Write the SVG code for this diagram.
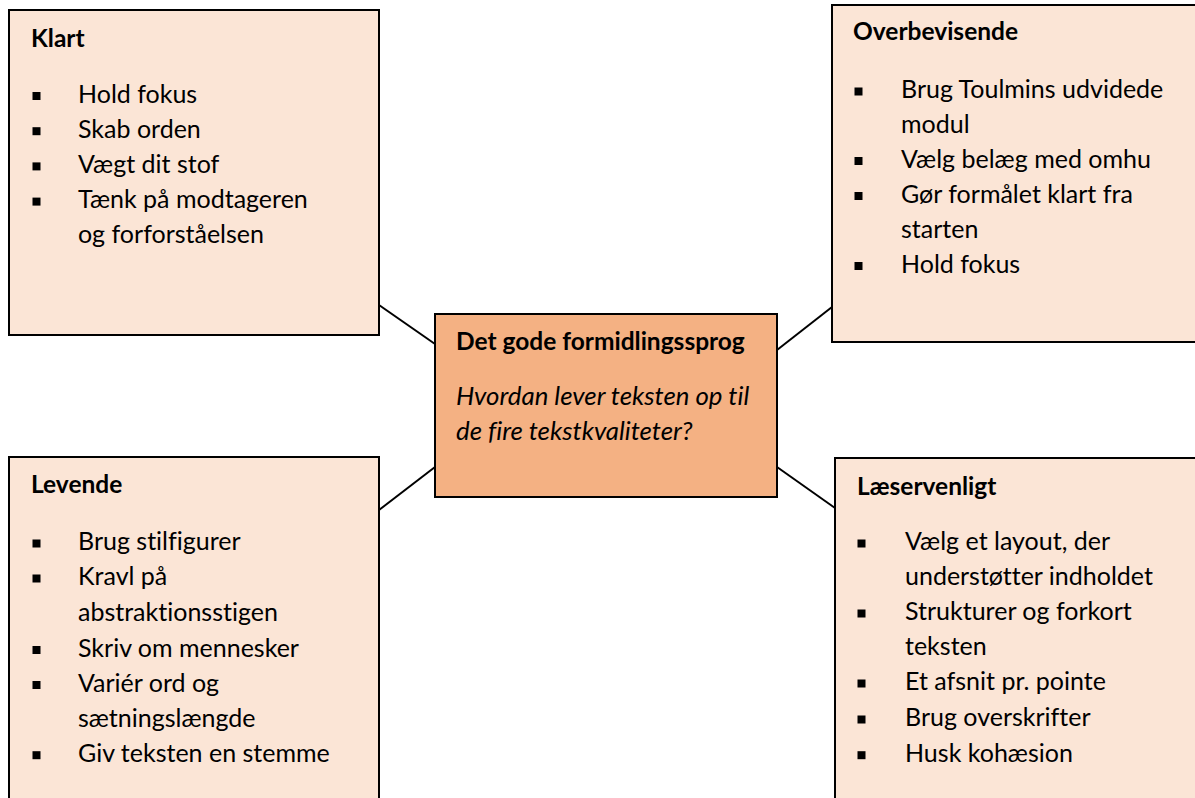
<svg xmlns="http://www.w3.org/2000/svg" width="1195" height="798" viewBox="0 0 1195 798">
<style>
text{font-family:Lato,"Open Sans",sans-serif;fill:#000;font-variant-ligatures:none}
.box{fill:#FBE5D6;stroke:#000;stroke-width:2}
.core{fill:#F4B183;stroke:#000;stroke-width:2}
.t{font-size:25px}
.h{font-size:24.5px;font-weight:bold}
.i{font-size:25.8px;font-style:italic}
.b{fill:#000}
.c{stroke:#000;stroke-width:2;fill:none}
</style>
<g id="connectors">
<line class="c" x1="379" y1="305" x2="435" y2="344"/>
<line class="c" x1="777" y1="350" x2="832" y2="307"/>
<line class="c" x1="435" y1="467" x2="379" y2="510"/>
<line class="c" x1="777" y1="467" x2="835" y2="508"/>
</g>
<g id="klart">
<rect class="box" x="9" y="10" width="370" height="325"/>
<text class="h" x="31" y="47">Klart</text>
<rect class="b" x="32.5" y="92" width="8" height="8"/>
<text class="t" x="78" y="102.5">Hold fokus</text>
<rect class="b" x="32.5" y="127.2" width="8" height="8"/>
<text class="t" x="78" y="137.7">Skab orden</text>
<rect class="b" x="32.5" y="162.4" width="8" height="8"/>
<text class="t" x="78" y="172.9">Vægt dit stof</text>
<rect class="b" x="32.5" y="197.6" width="8" height="8"/>
<text class="t" x="78" y="208.1">Tænk på modtageren</text>
<text class="t" x="78" y="243.3">og forforståelsen</text>
</g>
<g id="overbevisende">
<rect class="box" x="832" y="5" width="375" height="337"/>
<text class="h" x="853" y="40">Overbevisende</text>
<rect class="b" x="854.5" y="87.5" width="8" height="8"/>
<text class="t" x="901" y="98">Brug Toulmins udvidede</text>
<text class="t" x="901" y="133">modul</text>
<rect class="b" x="854.5" y="157" width="8" height="8"/>
<text class="t" x="901" y="167.5">Vælg belæg med omhu</text>
<rect class="b" x="854.5" y="192" width="8" height="8"/>
<text class="t" x="901" y="202.5">Gør formålet klart fra</text>
<text class="t" x="901" y="237.5">starten</text>
<rect class="b" x="854.5" y="262" width="8" height="8"/>
<text class="t" x="901" y="272.5">Hold fokus</text>
</g>
<g id="center">
<rect class="core" x="435" y="314" width="342" height="183"/>
<text class="h" x="456" y="350">Det gode formidlingssprog</text>
<text class="i" x="456" y="405">Hvordan lever teksten op til</text>
<text class="i" x="456" y="440">de fire tekstkvaliteter?</text>
</g>
<g id="levende">
<rect class="box" x="9" y="457" width="370" height="360"/>
<text class="h" x="31" y="493">Levende</text>
<rect class="b" x="32.5" y="539.5" width="8" height="8"/>
<text class="t" x="78" y="550">Brug stilfigurer</text>
<rect class="b" x="32.5" y="574.5" width="8" height="8"/>
<text class="t" x="78" y="585">Kravl på</text>
<text class="t" x="78" y="620.5">abstraktionsstigen</text>
<rect class="b" x="32.5" y="646" width="8" height="8"/>
<text class="t" x="78" y="656.5">Skriv om mennesker</text>
<rect class="b" x="32.5" y="681" width="8" height="8"/>
<text class="t" x="78" y="691.5">Variér ord og</text>
<text class="t" x="78" y="726.7">sætningslængde</text>
<rect class="b" x="32.5" y="751.2" width="8" height="8"/>
<text class="t" x="78" y="761.7">Giv teksten en stemme</text>
</g>
<g id="laeservenligt">
<rect class="box" x="835" y="458" width="372" height="360"/>
<text class="h" x="857" y="495">Læservenligt</text>
<rect class="b" x="857.5" y="539.5" width="8" height="8"/>
<text class="t" x="905" y="550">Vælg et layout, der</text>
<text class="t" x="905" y="585">understøtter indholdet</text>
<rect class="b" x="857.5" y="609.5" width="8" height="8"/>
<text class="t" x="905" y="620">Strukturer og forkort</text>
<text class="t" x="905" y="655">teksten</text>
<rect class="b" x="857.5" y="679.5" width="8" height="8"/>
<text class="t" x="905" y="690">Et afsnit pr. pointe</text>
<rect class="b" x="857.5" y="715.5" width="8" height="8"/>
<text class="t" x="905" y="726">Brug overskrifter</text>
<rect class="b" x="857.5" y="751.2" width="8" height="8"/>
<text class="t" x="905" y="761.7">Husk kohæsion</text>
</g>
</svg>
